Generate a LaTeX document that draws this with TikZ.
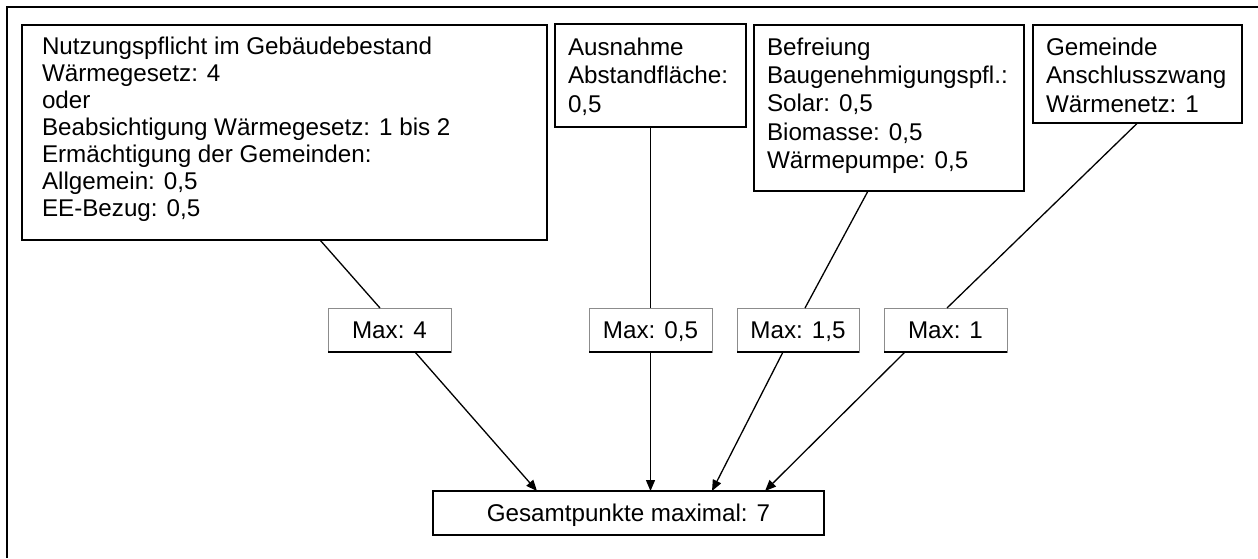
\documentclass[tikz,border=0pt]{standalone}
\usepackage{fontspec}
\setmainfont{Liberation Sans}
\usetikzlibrary{arrows.meta}
\newcommand{\boxtext}[2]{\parbox[t]{#1}{\raggedright #2}}
\begin{document}
\begin{tikzpicture}[x=1pt,y=-1pt,
  box/.style={draw=black,line width=1.4pt,rectangle,inner sep=0pt,outer sep=0pt,anchor=north west},
  txt/.style={anchor=base west,inner sep=0pt,outer sep=0pt},
  maxbox/.style={draw=black!45,line width=0.9pt,rectangle,inner sep=0pt,outer sep=0pt,
    minimum height=44pt,text height=17pt,text depth=0pt,font=\fontsize{24.2}{29}\selectfont},
  shadowline/.style={line width=1.6pt,black},
  conn/.style={line width=1.3pt,black},
  arr/.style={line width=1.3pt,black,-{Triangle[length=11pt,width=9pt]}}]
\useasboundingbox (0,0) rectangle (1258,558);
% outer frame (only top and left edges visible)
\draw[line width=1.6pt] (1258,7) -- (7,7) -- (7,558);

% top boxes
\node[box,minimum width=525pt,minimum height=215pt] (A) at (22,25) {};
\node[box,minimum width=191pt,minimum height=103pt] (B) at (555,24) {};
\node[box,minimum width=270pt,minimum height=166pt] (C) at (754,25) {};
\node[box,minimum width=209pt,minimum height=98pt] (D) at (1033,25) {};

\node[txt] (At) at (42,54) {\fontsize{24.2}{27}\selectfont\boxtext{500pt}{Nutzungspflicht im Gebäudebestand\\
Wärmegesetz: 4\\oder\\Beabsichtigung Wärmegesetz: 1 bis 2\\Ermächtigung der Gemeinden:\\Allgemein: 0,5\\EE-Bezug: 0,5}};
\node[txt] (Bt) at (568,55) {\fontsize{24.2}{28.6}\selectfont\boxtext{180pt}{Ausnahme\\Abstandfläche:\\0,5}};
\node[txt] (Ct) at (767,55) {\fontsize{24.2}{28.4}\selectfont\boxtext{260pt}{Befreiung\\Baugenehmigungspfl.:\\Solar: 0,5\\Biomasse: 0,5\\Wärmepumpe: 0,5}};
\node[txt] (Dt) at (1046,55) {\fontsize{24.2}{28.6}\selectfont\boxtext{200pt}{Gemeinde\\Anschlusszwang\\Wärmenetz: 1}};

% max boxes
\node[maxbox,minimum width=123pt] (m4) at (389.5,330) {Max: 4};
\node[maxbox,minimum width=123pt] (m05) at (650.5,330) {Max: 0,5};
\node[maxbox,minimum width=122pt] (m15) at (798,330) {Max: 1,5};
\node[maxbox,minimum width=123pt] (m1) at (945.5,330) {Max: 1};
\foreach \n in {m4,m05,m15,m1}{\draw[shadowline] (\n.south west) -- (\n.south east);}

% total box
\node[maxbox,draw=black,line width=1.2pt,minimum width=391pt] (tot) at (628.5,513) {Gesamtpunkte maximal: 7};
\draw[shadowline] (tot.south west) -- (tot.south east);

% connectors
\draw[conn] ([xshift=35.5pt]A.south) -- ([xshift=-9.5pt]m4.north);
\draw[conn] (B.south) -- (m05.north);
\draw[conn] ([xshift=-21pt]C.south) -- ([xshift=7pt]m15.north);
\draw[conn] (D.south) -- ([xshift=1.5pt]m1.north);

\draw[arr] ([xshift=25.5pt]m4.south) -- ([xshift=-91.5pt]tot.north);
\draw[arr] (m05.south) -- ([xshift=22pt]tot.north);
\draw[arr] ([xshift=-15pt]m15.south) -- ([xshift=83.5pt]tot.north);
\draw[arr] ([xshift=-40.5pt]m1.south) -- ([xshift=136.5pt]tot.north);
\end{tikzpicture}
\end{document}
